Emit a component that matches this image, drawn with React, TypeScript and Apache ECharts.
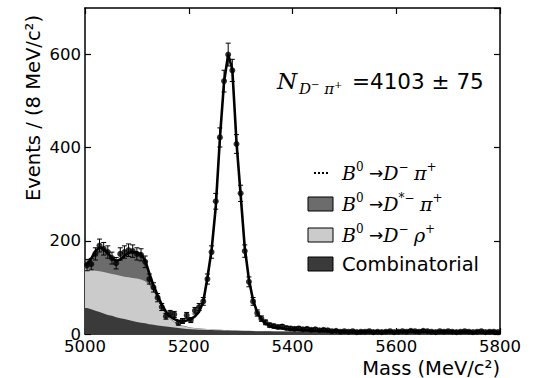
import React, { useEffect, useRef } from "react";
import * as echarts from "echarts";

// Bin centres (MeV/c^2), 8 MeV bins
const masses = [
  5004, 5012, 5020, 5028, 5036, 5044, 5052, 5060, 5068, 5076,
  5084, 5092, 5100, 5108, 5116, 5124, 5132, 5140, 5148, 5156,
  5164, 5172, 5180, 5188, 5196, 5204, 5212, 5220, 5228, 5236,
  5244, 5252, 5260, 5268, 5276, 5284, 5292, 5300, 5308, 5316,
  5324, 5332, 5340, 5348, 5356, 5364, 5372, 5380, 5388, 5396,
  5404, 5412, 5420, 5428, 5436, 5444, 5452, 5460, 5468, 5476,
  5484, 5492, 5500, 5508, 5516, 5524, 5532, 5540, 5548, 5556,
  5564, 5572, 5580, 5588, 5596, 5604, 5612, 5620, 5628, 5636,
  5644, 5652, 5660, 5668, 5676, 5684, 5692, 5700, 5708, 5716,
  5724, 5732, 5740, 5748, 5756, 5764, 5772, 5780, 5788, 5796,
];

// Observed events per bin
const events = [
  148, 150, 172, 190, 183, 176, 163, 152, 172, 176,
  180, 178, 172, 170, 155, 118, 100, 78, 58, 38,
  44, 42, 24, 28, 40, 30, 50, 58, 70, 118,
  176, 285, 422, 543, 600, 566, 408, 302, 178, 112,
  70, 45, 33, 25, 19, 17, 15, 16, 13, 12,
  11, 12, 10, 11, 9, 10, 8, 9, 8, 6,
  7, 5, 6, 5, 6, 4, 5, 5, 6, 4,
  5, 4, 5, 6, 4, 5, 6, 5, 7, 6,
  5, 7, 6, 5, 4, 6, 5, 6, 5, 4,
  5, 6, 5, 4, 5, 6, 4, 5, 5, 4,
];

// Fit components per bin
const combinatorial = [
  56, 53, 50, 47, 44, 41, 39, 36, 34, 32,
  30, 28, 26, 24, 23, 21, 20, 18, 17, 16,
  15, 14, 13, 12, 11, 10, 9.6, 9.3, 9, 8.7,
  8.4, 8.1, 7.8, 7.5, 7.3, 7.1, 6.9, 6.7, 6.5, 6.3,
  6.2, 6.0, 5.9, 5.8, 5.7, 5.6, 5.5, 5.4, 5.3, 5.2,
  5.2, 5.1, 5.1, 5.0, 5.0, 4.9, 4.9, 4.9, 4.8, 4.8,
  4.8, 4.8, 4.7, 4.7, 4.7, 4.7, 4.7, 4.6, 4.6, 4.6,
  4.6, 4.6, 4.6, 4.6, 4.5, 4.5, 4.5, 4.5, 4.5, 4.5,
  4.5, 4.5, 4.5, 4.4, 4.4, 4.4, 4.4, 4.4, 4.4, 4.4,
  4.4, 4.4, 4.4, 4.3, 4.3, 4.3, 4.3, 4.3, 4.3, 4.3,
];

const dRho = [
  83, 85, 86, 88, 89, 90, 90, 91, 91, 91,
  92, 92, 93, 93, 90, 85, 72, 56, 39, 26,
  17, 11, 7, 5, 4, 3.5, 3, 2.6, 2.3, 2,
  1.8, 1.6, 1.4, 1.2, 1, 0.9, 0.8, 0.7, 0.6, 0.5,
  0.4, 0.3, 0.3, 0.2, 0.2, 0.1, 0.1, 0.1, 0, 0,
  0, 0, 0, 0, 0, 0, 0, 0, 0, 0,
  0, 0, 0, 0, 0, 0, 0, 0, 0, 0,
  0, 0, 0, 0, 0, 0, 0, 0, 0, 0,
  0, 0, 0, 0, 0, 0, 0, 0, 0, 0,
  0, 0, 0, 0, 0, 0, 0, 0, 0, 0,
];

const dStarPi = [
  11, 24, 42, 51, 50, 43, 34, 30, 35, 45,
  52, 56, 56, 54, 45, 24, 12, 8, 5, 3,
  2, 2, 1.5, 1, 1, 0.5, 0.3, 0.2, 0.1, 0,
  0, 0, 0, 0, 0, 0, 0, 0, 0, 0,
  0, 0, 0, 0, 0, 0, 0, 0, 0, 0,
  0, 0, 0, 0, 0, 0, 0, 0, 0, 0,
  0, 0, 0, 0, 0, 0, 0, 0, 0, 0,
  0, 0, 0, 0, 0, 0, 0, 0, 0, 0,
  0, 0, 0, 0, 0, 0, 0, 0, 0, 0,
  0, 0, 0, 0, 0, 0, 0, 0, 0, 0,
];

const signal = [
  0, 0, 0, 0, 0, 0, 0, 0, 0, 0,
  0, 0, 0, 0, 0, 0, 0.5, 1, 2, 3,
  4, 5, 7, 9, 13, 18, 25, 36, 58, 110,
  170, 262, 410, 532, 592, 560, 405, 292, 178, 110,
  66, 40, 25, 17, 12, 9.5, 8, 6.5, 5.5, 4.8,
  4.2, 3.7, 3.2, 2.8, 2.5, 2.2, 2, 1.8, 1.6, 1.4,
  1.2, 1.1, 1, 0.9, 0.8, 0.8, 0.7, 0.7, 0.6, 0.6,
  0.5, 0.5, 0.5, 0.4, 0.4, 0.4, 0.4, 0.3, 0.3, 0.3,
  0.3, 0.3, 0.3, 0.2, 0.2, 0.2, 0.2, 0.2, 0.2, 0.2,
  0.2, 0.2, 0.2, 0.1, 0.1, 0.1, 0.1, 0.1, 0.1, 0.1,
];

const X_MIN = 5000;
const X_MAX = 5800;
const X_STEP = 200;
const Y_MIN = 0;
const Y_MAX = 700;
const Y_STEP = 200;

const COL_DARK = "#3a3a3a";
const COL_MID = "#6c6c6c";
const COL_LIGHT = "#cbcbcb";

export default function App() {
  const ref = useRef<HTMLDivElement>(null);
  useEffect(() => {
    if (!ref.current) return;
    const chart = echarts.init(ref.current, null, { renderer: "svg" });
    const n = masses.length;
    const combTop = combinatorial.slice();
    const rhoTop = combTop.map((v, i) => v + dRho[i]);
    const dstarTop = rhoTop.map((v, i) => v + dStarPi[i]);
    const total = dstarTop.map((v, i) => v + signal[i]);
    const edge = (arr: number[]) => [
      [X_MIN, arr[0]],
      ...masses.map((m, i) => [m, arr[i]]),
      [X_MAX, arr[n - 1]],
    ];
    const areaSeries = (arr: number[], color: string) => ({
      type: "line",
      data: edge(arr),
      showSymbol: false,
      symbol: "none",
      lineStyle: { width: 0 },
      areaStyle: { color, opacity: 1 },
      silent: true,
    });
    const errData = masses.map((m, i) => [m, events[i], Math.sqrt(events[i])]);
    const font = "DejaVu Sans";
    const serif = "DejaVu Serif";
    const mathRich = {
      i: { fontFamily: serif, fontStyle: "italic", fontSize: 19, lineHeight: 24, color: "#000" },
      t: { fontFamily: font, fontSize: 17, lineHeight: 24, color: "#000" },
      sup: { fontFamily: serif, fontSize: 12, verticalAlign: "top", color: "#000" },
    };
    const legendY = [173, 204, 235, 264];
    const plain = (v: number) => String(v);
    chart.setOption({
      animation: false,
      grid: { left: 85, right: 35, top: 8, bottom: 44, containLabel: false },
      xAxis: [
        {
          type: "value",
          min: X_MIN,
          max: X_MAX,
          interval: X_STEP,
          position: "bottom",
          axisLine: { show: true, onZero: false, lineStyle: { color: "#000", width: 1.5 } },
          axisTick: { show: true, inside: true, length: 6, lineStyle: { color: "#000", width: 1.2 } },
          axisLabel: { color: "#000", fontSize: 16.5, lineHeight: 12, fontFamily: font, margin: 6, formatter: plain },
          splitLine: { show: false },
        },
        {
          type: "value",
          min: X_MIN,
          max: X_MAX,
          interval: X_STEP,
          position: "top",
          axisLine: { show: true, onZero: false, lineStyle: { color: "#000", width: 1.5 } },
          axisTick: { show: true, inside: true, length: 6, lineStyle: { color: "#000", width: 1.2 } },
          axisLabel: { show: false },
          splitLine: { show: false },
        },
      ],
      yAxis: [
        {
          type: "value",
          min: Y_MIN,
          max: Y_MAX,
          interval: Y_STEP,
          position: "left",
          axisLine: { show: true, onZero: false, lineStyle: { color: "#000", width: 1.5 } },
          axisTick: { show: true, inside: true, length: 6, lineStyle: { color: "#000", width: 1.2 } },
          axisLabel: {
            color: "#000",
            fontSize: 16.5,
            lineHeight: 12,
            fontFamily: font,
            margin: 4,
            showMaxLabel: false,
            formatter: (v: number) => (v % Y_STEP === 0 ? String(v) : ""),
          },
          splitLine: { show: false },
        },
        {
          type: "value",
          min: Y_MIN,
          max: Y_MAX,
          interval: Y_STEP,
          position: "right",
          axisLine: { show: true, onZero: false, lineStyle: { color: "#000", width: 1.5 } },
          axisTick: { show: true, inside: true, length: 6, lineStyle: { color: "#000", width: 1.2 } },
          axisLabel: { show: false },
          splitLine: { show: false },
        },
      ],
      series: [
        areaSeries(dstarTop, COL_MID),
        areaSeries(rhoTop, COL_LIGHT),
        areaSeries(combTop, COL_DARK),
        {
          type: "line",
          data: edge(total),
          showSymbol: false,
          symbol: "none",
          lineStyle: { color: "#000", width: 2.6 },
          silent: true,
          z: 3,
        },
        {
          type: "custom",
          data: errData,
          clip: true,
          z: 4,
          renderItem: (params: any, api: any) => {
            const x = api.value(0);
            const y = api.value(1);
            const e = api.value(2);
            const top = api.coord([x, y + e]);
            const bot = api.coord([x, Math.max(0, y - e)]);
            const st = { stroke: "#000", lineWidth: 1 };
            return {
              type: "group",
              children: [
                { type: "line", shape: { x1: top[0], y1: top[1], x2: bot[0], y2: bot[1] }, style: st },
                { type: "line", shape: { x1: top[0] - 2.5, y1: top[1], x2: top[0] + 2.5, y2: top[1] }, style: st },
                { type: "line", shape: { x1: bot[0] - 2.5, y1: bot[1], x2: bot[0] + 2.5, y2: bot[1] }, style: st },
              ],
            };
          },
        },
        {
          type: "scatter",
          data: masses.map((m, i) => [m, events[i]]),
          symbol: "circle",
          symbolSize: 6,
          itemStyle: { color: "#000" },
          z: 5,
          silent: true,
        },
      ],
      graphic: [
        {
          type: "text",
          x: 33,
          y: 108,
          rotation: Math.PI / 2,
          style: {
            text: "Events / (8 MeV/c²)",
            fontSize: 19.5,
            fontFamily: font,
            fill: "#000",
            align: "center",
            verticalAlign: "middle",
            textAlign: "center",
            textVerticalAlign: "middle",
          },
        },
        {
          type: "text",
          x: 500,
          y: 368,
          style: {
            text: "Mass (MeV/c²)",
            fontSize: 19.5,
            fontFamily: font,
            fill: "#000",
            align: "right",
            verticalAlign: "middle",
            textAlign: "right",
            textVerticalAlign: "middle",
          },
        },
        {
          type: "text",
          x: 277,
          y: 81,
          style: {
            text: "N",
            fontSize: 23,
            fontFamily: serif,
            fontStyle: "italic",
            fill: "#000",
            align: "left",
            verticalAlign: "middle",
            textAlign: "left",
            textVerticalAlign: "middle",
          },
        },
        {
          type: "text",
          x: 299,
          y: 89,
          style: {
            text: "{i|D}{s|−}{i| π}{s|+}",
            fill: "#000",
            align: "left",
            verticalAlign: "middle",
            textAlign: "left",
            textVerticalAlign: "middle",
            rich: {
              i: { fontFamily: serif, fontStyle: "italic", fontSize: 15, lineHeight: 20, color: "#000" },
              s: { fontFamily: serif, fontSize: 10, verticalAlign: "top", color: "#000" },
            },
          },
        },
        {
          type: "text",
          x: 352,
          y: 81,
          style: {
            text: "=4103 ± 75",
            fontSize: 21.5,
            fontFamily: font,
            fill: "#000",
            align: "left",
            verticalAlign: "middle",
            textAlign: "left",
            textVerticalAlign: "middle",
          },
        },
        // legend: signal (dotted line)
        {
          type: "line",
          shape: { x1: 314, y1: legendY[0], x2: 330, y2: legendY[0] },
          style: { stroke: "#000", lineWidth: 2, lineDash: [2, 2] },
        },
        {
          type: "text",
          x: 342,
          y: legendY[0],
          style: {
            text: "{i|B}{sup|0}{t| →}{i|D}{sup|−}{t| }{i|π}{sup|+}",
            rich: mathRich,
            align: "left",
            verticalAlign: "middle",
            textAlign: "left",
            textVerticalAlign: "middle",
          },
        },
        {
          type: "rect",
          shape: { x: 308, y: legendY[1] - 7, width: 25, height: 14 },
          style: { fill: COL_MID, stroke: "#000", lineWidth: 1 },
        },
        {
          type: "text",
          x: 342,
          y: legendY[1],
          style: {
            text: "{i|B}{sup|0}{t| →}{i|D}{sup|*−}{t| }{i|π}{sup|+}",
            rich: mathRich,
            align: "left",
            verticalAlign: "middle",
            textAlign: "left",
            textVerticalAlign: "middle",
          },
        },
        {
          type: "rect",
          shape: { x: 308, y: legendY[2] - 7, width: 25, height: 14 },
          style: { fill: COL_LIGHT, stroke: "#000", lineWidth: 1 },
        },
        {
          type: "text",
          x: 342,
          y: legendY[2],
          style: {
            text: "{i|B}{sup|0}{t| →}{i|D}{sup|−}{t| }{i|ρ}{sup|+}",
            rich: mathRich,
            align: "left",
            verticalAlign: "middle",
            textAlign: "left",
            textVerticalAlign: "middle",
          },
        },
        {
          type: "rect",
          shape: { x: 308, y: legendY[3] - 7, width: 25, height: 14 },
          style: { fill: COL_DARK, stroke: "#000", lineWidth: 1 },
        },
        {
          type: "text",
          x: 342,
          y: legendY[3],
          style: {
            text: "Combinatorial",
            fontSize: 19.5,
            fontFamily: font,
            fill: "#000",
            align: "left",
            verticalAlign: "middle",
            textAlign: "left",
            textVerticalAlign: "middle",
          },
        },
      ],
    });
    return () => chart.dispose();
  }, []);
  return (
    <div
      ref={ref}
      style={{ position: "fixed", left: 0, top: 0, width: 535, height: 378, background: "#fff" }}
    />
  );
}
